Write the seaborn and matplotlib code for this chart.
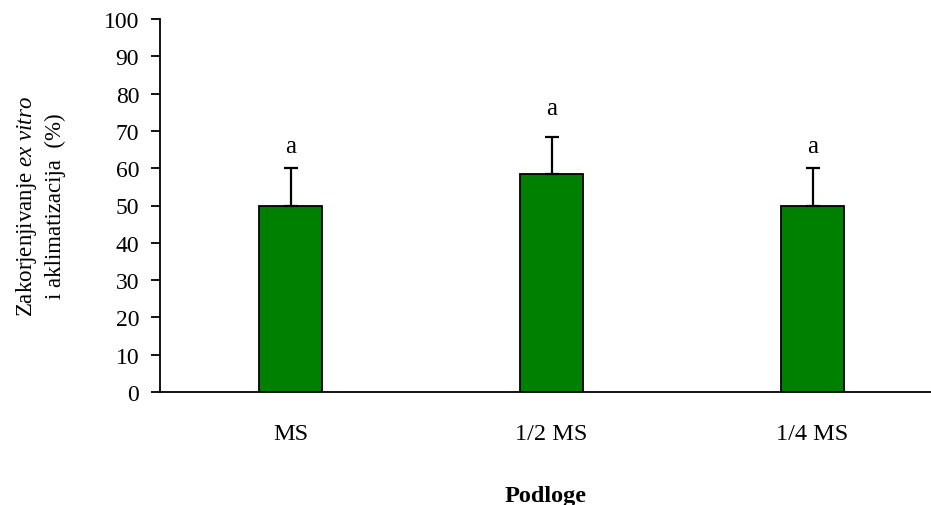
import matplotlib
matplotlib.use("Agg")
import matplotlib.pyplot as plt
import seaborn as sns
import pandas as pd
import numpy as np

categories = ["MS", "1/2 MS", "1/4 MS"]
values = [50.0, 58.33, 50.0]
errors = [10.0, 10.0, 10.0]
letters = ["a", "a", "a"]
letter_heights = [64.3, 74.5, 64.3]
yticks = list(range(0, 101, 10))

sns.set_theme(style="white")
plt.rcParams['font.family'] = ['Liberation Serif', 'DejaVu Serif']
plt.rcParams['mathtext.fontset'] = 'custom'
plt.rcParams['mathtext.it'] = 'Liberation Serif:italic'
plt.rcParams['mathtext.rm'] = 'Liberation Serif'
plt.rcParams['text.color'] = 'black'
plt.rcParams['axes.labelcolor'] = 'black'
plt.rcParams['xtick.color'] = 'black'
plt.rcParams['ytick.color'] = 'black'

df = pd.DataFrame({"Podloge": categories, "val": values})

fig = plt.figure(figsize=(9.31, 5.06), dpi=100)
W, H = 931, 506
ax = fig.add_axes([160 / W, 1 - 393 / H, (931 - 160) / W, (393 - 20) / H])

sns.barplot(data=df, x="Podloge", y="val", ax=ax, color="#008000",
            edgecolor="black", linewidth=1.3, width=0.245, saturation=1,
            errorbar=None)
x = np.arange(len(categories))
ax.errorbar(x, values, yerr=[np.zeros(len(errors)), errors], fmt="none",
            ecolor="black", elinewidth=1.6, capsize=4.7, capthick=1.6)
for xi, lt, h in zip(x, letters, letter_heights):
    ax.text(xi, h, lt, ha="center", va="baseline", fontsize=18, color="black")

ax.set_xlim(-0.5, 2.454)
ax.set_ylim(0, 100)
ax.set_yticks(yticks)
ax.set_yticklabels([str(t) for t in yticks], fontsize=17)
ax.tick_params(axis="y", direction="out", length=6.5, width=1.3, pad=8.5, left=True)
ax.tick_params(axis="x", length=0, pad=22, labelsize=17.5)
for s in ["top", "right"]:
    ax.spines[s].set_visible(False)
for s in ["left", "bottom"]:
    ax.spines[s].set_color("black")
    ax.spines[s].set_linewidth(1.3)

ax.set_xlabel("Podloge", fontsize=17.5, fontweight="bold", labelpad=30)
ax.set_ylabel("Zakorjenjivanje $\\mathit{ex\\ vitro}$\ni aklimatizacija  (%)",
              fontsize=16.5, labelpad=27, linespacing=1.4)

fig.savefig("out.png", dpi=100)
